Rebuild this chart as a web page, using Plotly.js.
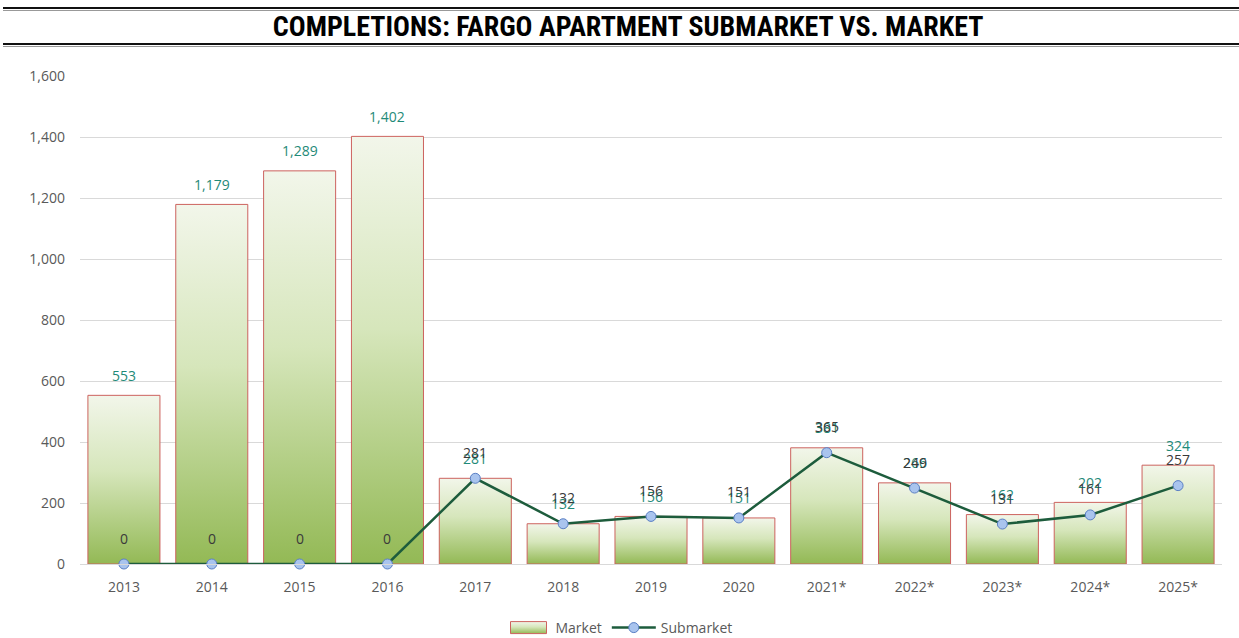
<!DOCTYPE html>
<html>
<head>
<meta charset="utf-8">
<script src="https://cdn.plot.ly/plotly-3.0.1.min.js"></script>
<style>html,body{margin:0;padding:0;background:#fff;}#chart{width:1239px;height:638px;}</style>
</head>
<body>
<div id="chart"></div>
<script>
const categories = ["2013","2014","2015","2016","2017","2018","2019","2020","2021*","2022*","2023*","2024*","2025*"];
const marketValues = [553,1179,1289,1402,281,132,156,151,381,266,162,202,324];
const submarketValues = [0,0,0,0,281,132,156,151,365,249,131,161,257];
const yTickVals = [0,200,400,600,800,1000,1200,1400,1600];
const yTickText = ["0","200","400","600","800","1,000","1,200","1,400","1,600"];

const fmt = v => v.toLocaleString("en-US");
const labelFont = "Open Sans, DejaVu Sans, sans-serif";

const market = {
  type: "bar", name: "Market", x: categories, y: marketValues,
  marker: {color: "#c2d89c", line: {color: "#cc625e", width: 1}},
  hoverinfo: "x+y"
};
const submarket = {
  type: "scatter", mode: "lines+markers", name: "Submarket", x: categories, y: submarketValues,
  line: {color: "#1d5c3c", width: 2.5},
  marker: {size: 10, color: "#a9c4ee", line: {color: "#5a7fc4", width: 1}},
  cliponaxis: false
};

const W = 1239, H = 638, ml = 80, mr = 17, mt = 76, mb = 74;
const pw = W - ml - mr, ph = H - mt - mb;
const px = x => (x - ml) / pw;
const py = y => (H - mb - y) / ph;

const annotations = [];
categories.forEach((c, i) => {
  annotations.push({x: i, y: marketValues[i], xref: "x", yref: "y", text: fmt(marketValues[i]),
    showarrow: false, yshift: 20, yanchor: "middle", font: {family: labelFont, size: 14, color: "#1f8a78"}});
});
categories.forEach((c, i) => {
  annotations.push({x: i, y: submarketValues[i], xref: "x", yref: "y", text: fmt(submarketValues[i]),
    showarrow: false, yshift: 26, yanchor: "middle", font: {family: labelFont, size: 14, color: "#3a3a3a"}});
});

const layout = {
  width: W, height: H,
  margin: {l: ml, r: mr, t: mt, b: mb},
  paper_bgcolor: "#fff", plot_bgcolor: "#fff",
  title: {text: "<b>COMPLETIONS: FARGO APARTMENT SUBMARKET VS. MARKET</b>",
    font: {family: "Liberation Sans Narrow, Roboto Condensed, Arial Narrow, Liberation Sans, sans-serif", size: 28, color: "#000"},
    x: 0.507, xanchor: "center", xref: "container", y: 1 - 26/638, yanchor: "middle", yref: "container"},
  bargap: 0.18,
  showlegend: true,
  legend: {orientation: "h", x: 0.5, xanchor: "center", xref: "container", y: 1 - 628/638, yanchor: "middle", yref: "container",
    itemwidth: 44, font: {family: labelFont, size: 14, color: "#595959"}},
  xaxis: {type: "category", automargin: false, range: [-0.5, categories.length - 0.5],
    tickfont: {family: labelFont, size: 14, color: "#595959"}, ticklabelstandoff: 10,
    showline: true, linecolor: "#d9d9d9", ticks: "", showgrid: false},
  yaxis: {range: [0, 1600], automargin: false, tickvals: yTickVals, ticktext: yTickText,
    tickfont: {family: labelFont, size: 14, color: "#595959"},
    gridcolor: "#d9d9d9", zeroline: false, showline: false, ticks: "", ticklabelstandoff: 14},
  annotations: annotations,
  shapes: [
    {type: "line", xref: "paper", yref: "paper", x0: px(3), x1: px(1239), y0: py(8), y1: py(8), line: {color: "#111", width: 2}},
    {type: "line", xref: "paper", yref: "paper", x0: px(3), x1: px(1239), y0: py(10.5), y1: py(10.5), line: {color: "#999", width: 1}},
    {type: "line", xref: "paper", yref: "paper", x0: px(3), x1: px(1239), y0: py(44), y1: py(44), line: {color: "#111", width: 2}},
    {type: "line", xref: "paper", yref: "paper", x0: px(3), x1: px(1239), y0: py(46.5), y1: py(46.5), line: {color: "#999", width: 1}}
  ]
};

Plotly.newPlot("chart", [market, submarket], layout, {displayModeBar: false, staticPlot: true}).then(gd => {
  const svg = gd.querySelector("svg.main-svg");
  const ns = "http://www.w3.org/2000/svg";
  const defs = document.createElementNS(ns, "defs");
  const g = document.createElementNS(ns, "linearGradient");
  g.setAttribute("id", "barGrad"); g.setAttribute("x1", "0"); g.setAttribute("y1", "0");
  g.setAttribute("x2", "0"); g.setAttribute("y2", "1");
  [["0", "#f2f6ea"], ["0.45", "#d6e6bb"], ["1", "#93b955"]].forEach(([o, c]) => {
    const s = document.createElementNS(ns, "stop");
    s.setAttribute("offset", o); s.setAttribute("stop-color", c); g.appendChild(s);
  });
  defs.appendChild(g); svg.insertBefore(defs, svg.firstChild);
  gd.querySelectorAll(".barlayer .point path").forEach(p => { p.style.fill = "url(#barGrad)"; });
  gd.querySelectorAll(".legend .legendpoints path").forEach(p => {
    if ((p.style.fill || "").indexOf("194, 216, 156") >= 0) {
      p.style.fill = "url(#barGrad)";
      p.setAttribute("d", "M18,6H-18V-6H18Z");
    }
  });
});
</script>
</body>
</html>
